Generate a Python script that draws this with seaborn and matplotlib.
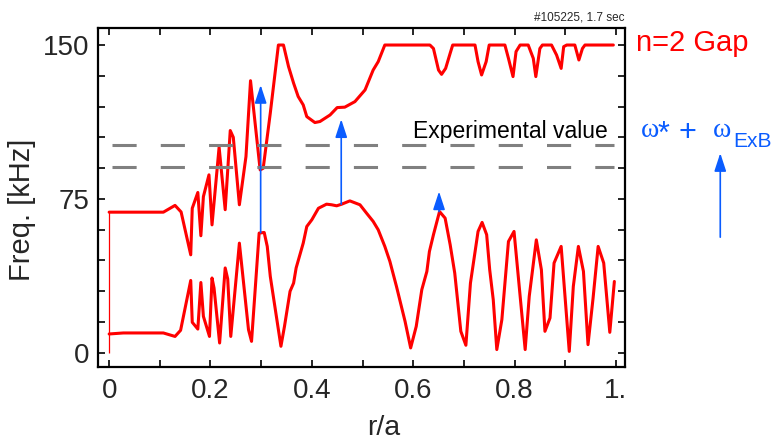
import numpy as np
import pandas as pd
import matplotlib
matplotlib.use("Agg")
import matplotlib.pyplot as plt
import seaborn as sns

# Upper branch of the n=2 gap (top capped at 150 kHz)
upper_r = [0.0, 0.107, 0.130, 0.142, 0.161, 0.164, 0.175, 0.181, 0.186, 0.197,
           0.203, 0.217, 0.229, 0.239, 0.245, 0.257, 0.270, 0.279, 0.298, 0.304,
           0.318, 0.334, 0.344, 0.354, 0.364, 0.373, 0.383, 0.390, 0.406, 0.416,
           0.436, 0.450, 0.465, 0.485, 0.505, 0.521, 0.531, 0.544, 0.633, 0.640,
           0.650, 0.656, 0.664, 0.673, 0.678, 0.722, 0.728, 0.735, 0.744, 0.750,
           0.781, 0.788, 0.797, 0.803, 0.811, 0.827, 0.837, 0.842, 0.850, 0.855,
           0.873, 0.883, 0.892, 0.897, 0.903, 0.919, 0.927, 0.934, 0.939, 0.995]
upper_f = [68.5, 68.5, 71.8, 68.6, 47.7, 70.4, 78.1, 57.0, 76.1, 86.7,
           62.3, 100.2, 69.7, 108.3, 105.0, 72.1, 95.6, 132.6, 89.1, 89.9,
           116.8, 150.0, 150.0, 139.5, 131.4, 124.9, 120.8, 115.1, 112.2, 112.7,
           115.9, 119.5, 119.7, 122.4, 128.1, 137.8, 141.9, 150.0, 150.0, 148.3,
           137.8, 135.7, 138.6, 146.0, 150.0, 150.0, 141.9, 135.4, 141.9, 150.0,
           150.0, 143.5, 134.6, 146.8, 150.0, 150.0, 143.5, 134.6, 148.3, 150.0,
           150.0, 145.1, 138.6, 149.2, 150.0, 150.0, 142.7, 148.3, 150.0, 150.0]

# Lower branch of the n=2 gap
lower_r = [0.0, 0.028, 0.107, 0.130, 0.141, 0.161, 0.164, 0.175, 0.181, 0.186,
           0.198, 0.203, 0.207, 0.218, 0.229, 0.234, 0.240, 0.257, 0.275, 0.281,
           0.296, 0.306, 0.312, 0.318, 0.325, 0.339, 0.346, 0.357, 0.364, 0.369,
           0.383, 0.390, 0.400, 0.413, 0.429, 0.439, 0.449, 0.459, 0.475, 0.495,
           0.508, 0.521, 0.531, 0.544, 0.554, 0.567, 0.584, 0.595, 0.606, 0.617,
           0.627, 0.632, 0.640, 0.652, 0.663, 0.673, 0.682, 0.694, 0.704, 0.713,
           0.728, 0.736, 0.745, 0.751, 0.758, 0.765, 0.775, 0.788, 0.799, 0.821,
           0.829, 0.843, 0.853, 0.860, 0.870, 0.878, 0.892, 0.908, 0.916, 0.926,
           0.936, 0.945, 0.955, 0.965, 0.976, 0.988, 0.997]
lower_f = [9.1, 9.6, 9.6, 7.9, 10.9, 35.2, 14.8, 11.5, 34.2, 17.7,
           7.9, 36.4, 31.5, 4.7, 41.3, 35.9, 7.9, 53.4, 11.2, 5.5,
           58.3, 58.6, 51.8, 37.2, 25.8, 3.1, 12.8, 29.9, 33.9, 41.3,
           53.4, 61.5, 64.8, 70.4, 72.4, 72.1, 71.6, 72.4, 74.0, 72.1,
           68.0, 64.0, 59.9, 51.8, 44.5, 32.3, 15.2, 2.3, 12.8, 30.7,
           39.6, 49.3, 57.5, 68.8, 65.6, 52.6, 38.8, 10.4, 3.6, 33.9,
           59.1, 63.5, 57.5, 40.4, 25.8, 1.5, 16.1, 54.2, 59.1, 1.5,
           27.4, 55.0, 40.4, 10.4, 16.9, 43.7, 51.8, 0.6, 32.3, 51.8,
           39.6, 3.9, 26.6, 51.8, 43.7, 9.9, 34.7]

# Measured mode frequency range
exp_freq = [90.5, 101.2]

# omega* + omega_ExB arrows: radius, base and tip frequency
arrow_r = [0.299, 0.458, 0.651]
arrow_base = [58.5, 72.4, 68.8]
arrow_tip = [130.5, 113.8, 78.6]

xticks = [0, 0.2, 0.4, 0.6, 0.8, 1.0]
xtick_labels = ["0", "0.2", "0.4", "0.6", "0.8", "1."]
yticks = [0, 75, 150]
ytick_labels = ["0", "75", "150"]

RED = "#ff0000"
BLUE = "#0a5cff"
GREY = "#808080"

sns.set_style("ticks")
plt.rcParams["font.family"] = ["Liberation Sans", "DejaVu Sans"]

fig = plt.figure(figsize=(7.75, 4.43), dpi=100)
ax = fig.add_axes([98 / 775, 1 - 367 / 443, 527 / 775, 339 / 443])

up = pd.DataFrame({"r": upper_r, "f": upper_f})
lo = pd.DataFrame({"r": lower_r, "f": lower_f})
sns.lineplot(data=up, x="r", y="f", ax=ax, color=RED, lw=2.2,
             estimator=None, sort=False)
sns.lineplot(data=lo, x="r", y="f", ax=ax, color=RED, lw=2.2,
             estimator=None, sort=False)
ax.vlines(upper_r[0], 0, upper_f[0], color=RED, lw=0.9)

ax.hlines(exp_freq, 0.006, 0.996, color=GREY, lw=2.2,
          linestyles=[(0, (7.9, 7.9))])
ax.text(0.600, 104.7, "Experimental value", fontsize=16.5,
        ha="left", va="baseline", color="black")

arrow_style = "-|>,head_length=1.1,head_width=0.36"
for r, b, t in zip(arrow_r, arrow_base, arrow_tip):
    ax.annotate("", xy=(r, t), xytext=(r, b),
                arrowprops=dict(arrowstyle=arrow_style, color=BLUE, lw=1.2,
                                shrinkA=0, shrinkB=0, mutation_scale=10))

# key arrow beside the axes
ax.annotate("", xy=(1.206, 97.3), xytext=(1.206, 56.3),
            annotation_clip=False,
            arrowprops=dict(arrowstyle=arrow_style, color=BLUE, lw=1.2,
                            shrinkA=0, shrinkB=0, mutation_scale=10))

ax.set_xlim(-0.022, 1.018)
ax.set_ylim(-7, 158.3)
ax.set_xticks(xticks)
ax.set_xticklabels(xtick_labels)
ax.set_xticks([0.1, 0.3, 0.5, 0.7, 0.9], minor=True)
ax.set_yticks(yticks)
ax.set_yticklabels(ytick_labels)
ax.set_yticks(np.arange(15, 150, 15), minor=True)
ax.tick_params(which="both", direction="in", top=True, right=True,
               length=5, width=1.2, color="black")
ax.tick_params(axis="x", which="major", labelsize=20, pad=8)
ax.tick_params(axis="y", which="major", labelsize=20, pad=6)
for s in ax.spines.values():
    s.set_linewidth(1.6)
    s.set_color("black")

ax.set_xlabel("r/a", fontsize=20.5)
ax.set_ylabel("Freq. [kHz]", fontsize=21)
ax.xaxis.set_label_coords(0.543, -0.143)
ax.yaxis.set_label_coords(-0.117, 0.463)

fig.text(624 / 775, 1 - 21 / 443, "#105225, 1.7 sec", fontsize=8.5,
         ha="right", va="baseline")
fig.text(636 / 775, 1 - 51 / 443, "n=2 Gap", fontsize=21, color=RED,
         ha="left", va="baseline")

# omega* + omega_ExB key, set piece by piece
H = 443.0
fig.text(641 / 775, 1 - 137 / H, "ω", fontsize=20, color=BLUE,
         family="Liberation Serif", ha="left", va="baseline")
fig.text(658 / 775, 1 - 143 / H, "*", fontsize=22, color=BLUE,
         ha="left", va="baseline")
fig.text(678 / 775, 1 - 141 / H, "+", fontsize=22, color=BLUE,
         ha="left", va="baseline")
fig.text(713 / 775, 1 - 137 / H, "ω", fontsize=20, color=BLUE,
         family="Liberation Serif", ha="left", va="baseline")
fig.text(733 / 775, 1 - 147 / H, "ExB", fontsize=15, color=BLUE,
         ha="left", va="baseline")

fig.savefig("out.png", dpi=100)
